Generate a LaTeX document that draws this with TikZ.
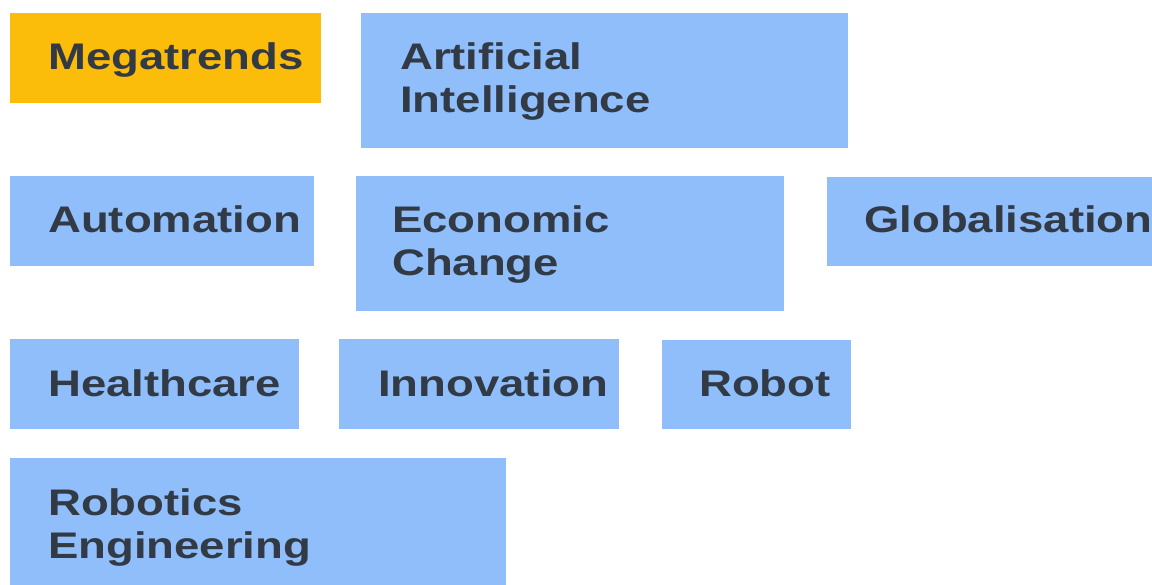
\documentclass[tikz,border=0pt]{standalone}
\usepackage{fontspec}
\setmainfont{Liberation Sans}[FakeStretch=1.23]
\usetikzlibrary{calc}
\definecolor{tileblue}{HTML}{8FBEFA}
\definecolor{tileorange}{HTML}{FBBC0A}
\definecolor{tiletext}{HTML}{323A46}
\begin{document}
\begin{tikzpicture}[x=1pt,y=-1pt,
  tile/.style={fill=tileblue,draw=none,inner sep=0pt,anchor=north west},
  hot/.style={fill=tileorange,draw=none,inner sep=0pt,anchor=north west},
  word/.style={anchor=base west,inner sep=0pt,text=tiletext,
    font=\fontsize{37}{43}\selectfont\bfseries,align=left}]
\useasboundingbox (0,0) rectangle (1152,585);
\clip (0,0) rectangle (1152,585);
% tiles: corner, size
\node[hot, minimum width=311pt, minimum height=90pt] (mega) at (10,13) {};
\node[tile, minimum width=487pt, minimum height=135pt] (ai) at (361,13) {};
\node[tile, minimum width=304pt, minimum height=90pt] (auto) at (10,176) {};
\node[tile, minimum width=428pt, minimum height=135pt] (econ) at (356,176) {};
\node[tile, minimum width=340pt, minimum height=89pt] (glob) at (827,177) {};
\node[tile, minimum width=289pt, minimum height=90pt] (health) at (10,339) {};
\node[tile, minimum width=280pt, minimum height=90pt] (innov) at (339,339) {};
\node[tile, minimum width=189pt, minimum height=89pt] (robot) at (662,339.5) {};
\node[tile, minimum width=496pt, minimum height=140pt] (roboeng) at (10,458) {};
% labels: one-line labels sit on a baseline 57 below the tile top,
% two-line labels are placed by their second baseline, 43 lower
\node[word] (megaT) at ($(mega.north west)+(38,57)$) {Megatrends};
\node[word] (aiT) at ($(ai.north west)+(39,100)$) {Artificial\\Intelligence};
\node[word] (autoT) at ($(auto.north west)+(38,57)$) {Automation};
\node[word] (econT) at ($(econ.north west)+(36,100)$) {Economic\\Change};
\node[word] (globT) at ($(glob.north west)+(37,56)$) {Globalisation};
\node[word] (healthT) at ($(health.north west)+(38,57)$) {Healthcare};
\node[word] (innovT) at ($(innov.north west)+(39,57)$) {Innovation};
\node[word] (robotT) at ($(robot.north west)+(37,56.5)$) {Robot};
\node[word] (roboengT) at ($(roboeng.north west)+(38,100)$) {Robotics\\Engineering};
\end{tikzpicture}
\end{document}
